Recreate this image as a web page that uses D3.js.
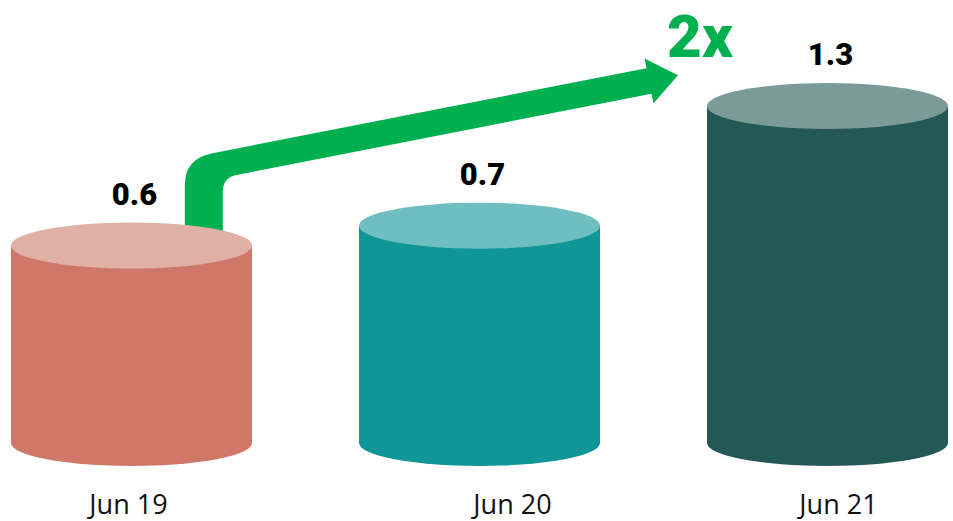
<!DOCTYPE html>
<html>
<head>
<meta charset="utf-8">
<script src="https://cdn.jsdelivr.net/npm/d3@7"></script>
<style>
	html, body { margin: 0; padding: 0; background: #fff; }
	svg { display: block; }
	.value { font-family: Roboto, "Liberation Sans", sans-serif; font-weight: 900; font-size: 31px; fill: #000; }
	.month { font-family: "Open Sans", "DejaVu Sans", sans-serif; font-size: 27px; fill: #111; }
	.growth { font-family: Roboto, "Liberation Sans", sans-serif; font-weight: 900; font-size: 60px; fill: #00b050; }
</style>
</head>
<body>
<div id="chart"></div>
<script>
var months = ["Jun 19", "Jun 20", "Jun 21"];
var values = [0.6, 0.7, 1.3];
var sideColors = ["#cf786a", "#109696", "#245856"];
var topColors = ["#e0afa6", "#70bfc0", "#7b9b98"];
var growthLabel = "2x";

var width = 953, height = 521;
var svg = d3.select("#chart").append("svg")
	.attr("width", width)
	.attr("height", height);

// cylinders are spread over the whole width, the floor sits at y=443
var x = d3.scaleBand()
	.domain(months)
	.range([11, 948])
	.paddingInner(0.3075)
	.paddingOuter(0);
var y = d3.scaleLinear()
	.domain([-0.39, 1.3])
	.range([443, 106]);

var ry = 23;
var rx = x.bandwidth() / 2;
var data = months.map(function(m, i) { return {month: m, value: values[i], side: sideColors[i], top: topColors[i]}; });

// green growth arrow, drawn first so the first cylinder hides its foot
function arrowPath() {
	var cx0 = x(months[0]) + x.bandwidth() * 0.8;  // vertical stem centre
	var vw = 19, hw = 13, hh = 23, hl = 29.5;       // half widths, head size
	var a1 = [cx0, 168.2];
	var a2 = [x(months[2]) - 58, y(values[2]) - 25];
	var dx = a2[0] - a1[0], dy = a2[1] - a1[1], len = Math.sqrt(dx * dx + dy * dy);
	var u = [dx / len, dy / len], n = [-u[1], u[0]];
	var k = u[1] / u[0];
	function yOn(off, px) {
		var p = [a1[0] + off * n[0], a1[1] + off * n[1]];
		return p[1] + (px - p[0]) * k;
	}
	var co = [cx0 - vw, yOn(-hw, cx0 - vw)];
	var ci = [cx0 + vw, yOn(hw, cx0 + vw)];
	var ro = 27, ri = 14, foot = y(values[0]) + 10;
	var p = d3.path();
	p.moveTo(cx0 - vw, foot);
	p.lineTo(co[0], co[1] + ro);
	p.quadraticCurveTo(co[0], co[1], co[0] + ro * u[0], co[1] + ro * u[1]);
	p.lineTo(a2[0] - hw * n[0], a2[1] - hw * n[1]);
	p.lineTo(a2[0] - hh * n[0], a2[1] - hh * n[1]);
	p.lineTo(a2[0] + hl * u[0], a2[1] + hl * u[1]);
	p.lineTo(a2[0] + hh * n[0], a2[1] + hh * n[1]);
	p.lineTo(a2[0] + hw * n[0], a2[1] + hw * n[1]);
	p.lineTo(ci[0] + ri * u[0], ci[1] + ri * u[1]);
	p.quadraticCurveTo(ci[0], ci[1], ci[0], ci[1] + ri);
	p.lineTo(cx0 + vw, foot);
	p.closePath();
	return {d: p.toString(), tip: [a2[0] + hl * u[0], a2[1] + hl * u[1]]};
}

var arrow = arrowPath();
svg.append("path")
	.attr("d", arrow.d)
	.attr("fill", "#00b050");

svg.append("text")
	.attr("class", "growth")
	.attr("x", arrow.tip[0] + 22)
	.attr("y", arrow.tip[1] - 18)
	.attr("text-anchor", "middle")
	.text(growthLabel);

var cyl = svg.selectAll("g.cyl")
	.data(data)
	.enter()
	.append("g")
	.attr("class", "cyl");

cyl.append("path")
	.attr("fill", function(d) { return d.side; })
	.attr("d", function(d) {
		var l = x(d.month), r = l + x.bandwidth(), t = y(d.value), b = y.range()[0];
		return "M" + l + "," + t + "L" + l + "," + b +
			"A" + rx + "," + ry + " 0 0 0 " + r + "," + b +
			"L" + r + "," + t + "Z";
	});

cyl.append("ellipse")
	.attr("cx", function(d) { return x(d.month) + rx; })
	.attr("cy", function(d) { return y(d.value); })
	.attr("rx", rx)
	.attr("ry", ry)
	.attr("fill", function(d) { return d.top; });

cyl.append("text")
	.attr("class", "value")
	.attr("x", function(d) { return x(d.month) + rx + 3; })
	.attr("y", function(d) { return y(d.value) - 41; })
	.attr("text-anchor", "middle")
	.text(function(d) { return d.value; });

// month labels sit a little off the cylinder centres in the original
var nudge = [-3, 33, 11];
svg.selectAll("text.month")
	.data(data)
	.enter()
	.append("text")
	.attr("class", "month")
	.attr("x", function(d, i) { return x(d.month) + rx + nudge[i]; })
	.attr("y", 514)
	.attr("text-anchor", "middle")
	.text(function(d) { return d.month; });
</script>
</body>
</html>
